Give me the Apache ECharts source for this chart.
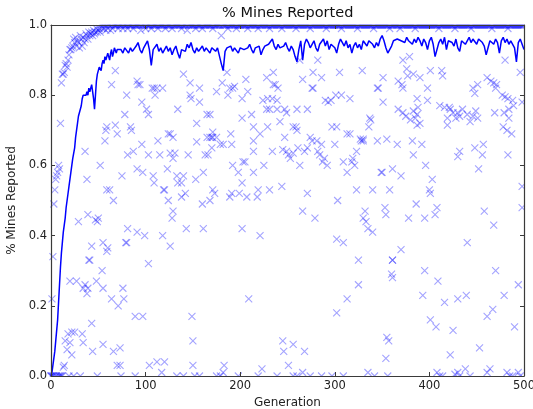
<!DOCTYPE html>
<html>
<head>
<meta charset="utf-8">
<script src="https://cdn.jsdelivr.net/npm/echarts@6/dist/echarts.min.js"></script>
<style>
  html, body { margin: 0; padding: 0; background: #fff; overflow: hidden; }
  #chart { width: 533px; height: 409px; }
</style>
</head>
<body>
<div id="chart"></div>
<script>
// Tick labels
const xTicks = [0, 100, 200, 300, 400, 500];
const yTicks = [0.0, 0.2, 0.4, 0.6, 0.8, 1.0];

// Best individual per generation (index = generation)
const maxReported = [
  0, 0.22, 0.34, 0.49, 0.53, 0.56, 0.57, 0.58, 0.60, 0.59, 0.72, 0.835, 0.86, 0.86, 0.865, 0.885, 0.89, 0.88, 0.90, 0.915,
  0.93, 0.93, 0.935, 0.94, 0.96, 0.95, 0.965, 0.94, 0.955, 0.95, 0.935, 0.97, 0.96, 0.94, 0.965, 0.95, 0.96, 0.975, 0.97, 0.96,
  0.98, 0.97, 0.975, 0.98, 0.97, 0.985, 0.975, 0.98, 0.99, 0.98, 0.985, 0.99, 0.98, 1, 0.99, 1, 0.99, 1, 0.985, 1,
  0.99, 1, 1, 0.985, 1, 0.99, 1, 1, 1, 1, 1, 0.99, 1, 1, 1, 1, 0.99, 1, 1, 1,
  1, 0.99, 1, 1, 1, 1, 1, 0.99, 1, 1, 1, 1, 1, 1, 1, 0.985, 1, 1, 1, 1,
  0.99, 1, 1, 1, 1, 1, 0.99, 1, 1, 1, 1, 1, 1, 0.99, 1, 1, 1, 1, 1, 1,
  1, 0.99, 1, 1, 1, 1, 1, 1, 0.99, 1, 1, 1, 1, 1, 1, 1, 1, 1, 0.99, 1,
  1, 1, 1, 1, 0.985, 1, 1, 1, 1, 1, 1, 1, 1, 0.99, 1, 1, 1, 1, 1, 1,
  0.99, 1, 1, 1, 1, 1, 1, 1, 1, 1, 1, 0.99, 1, 1, 1, 1, 1, 1, 1, 1,
  0.97, 1, 1, 1, 1, 1, 1, 0.99, 1, 1, 1, 1, 1, 1, 1, 1, 0.99, 1, 1, 1,
  1, 1, 1, 1, 1, 1, 1, 1, 0.99, 1, 1, 1, 1, 1, 1, 1, 1, 1, 1, 0.99,
  1, 1, 1, 1, 1, 1, 1, 1, 1, 1, 1, 0.99, 1, 1, 1, 1, 1, 1, 1, 1,
  1, 1, 1, 1, 0.99, 1, 1, 1, 1, 1, 1, 1, 1, 1, 1, 1, 1, 1, 1, 0.99,
  1, 1, 1, 1, 1, 1, 1, 1, 1, 1, 1, 1, 1, 1, 0.99, 1, 1, 1, 1, 1,
  1, 1, 1, 1, 1, 1, 1, 1, 1, 1, 1, 0.99, 1, 1, 1, 1, 1, 1, 1, 1,
  1, 1, 1, 1, 1, 1, 1, 0.99, 1, 1, 1, 1, 1, 1, 1, 1, 1, 1, 1, 1,
  1, 1, 1, 1, 0.99, 1, 1, 1, 1, 1, 1, 1, 1, 1, 1, 1, 1, 1, 1, 1,
  1, 0.99, 1, 1, 1, 1, 1, 1, 1, 1, 1, 1, 1, 1, 1, 1, 1, 1, 0.99, 1,
  1, 1, 1, 1, 1, 1, 1, 1, 1, 0.99, 1, 1, 1, 1, 1, 1, 1, 1, 1, 1,
  1, 1, 1, 1, 1, 0.99, 1, 1, 1, 1, 1, 1, 1, 1, 1, 1, 1, 1, 1, 1,
  1, 1, 1, 1, 1, 1, 1, 1, 1, 1, 0.99, 1, 1, 1, 1, 1, 1, 1, 1, 1,
  1, 1, 1, 1, 1, 1, 1, 0.99, 1, 1, 1, 1, 1, 1, 1, 1, 1, 1, 1, 1,
  1, 1, 1, 1, 0.99, 1, 1, 1, 1, 1, 1, 1, 1, 1, 1, 1, 1, 1, 1, 1,
  1, 1, 1, 1, 1, 1, 0.99, 1, 1, 1, 1, 1, 1, 1, 1, 1, 1, 1, 1, 1,
  1, 1, 1, 0.99, 1, 1, 1, 1, 1, 1, 1, 1, 1, 1, 1, 1, 1, 1, 1, 1, 1
];

// Population average: [generation, fraction reported]
const meanReported = [
  [0, 0.0], [1, 0.01], [2, 0.03], [3, 0.05], [4, 0.07], [5, 0.10], [6, 0.13], [7, 0.16], [8, 0.21], [9, 0.26],
  [10, 0.31], [11, 0.35], [12, 0.38], [13, 0.41], [14, 0.43], [15, 0.45], [16, 0.48], [17, 0.50], [18, 0.52], [19, 0.54],
  [20, 0.56], [21, 0.58], [22, 0.60], [23, 0.62], [24, 0.625], [25, 0.65], [26, 0.68], [27, 0.70], [28, 0.72], [29, 0.74],
  [30, 0.735], [31, 0.745], [32, 0.77], [33, 0.79], [34, 0.80], [35, 0.795], [36, 0.80], [37, 0.80], [38, 0.81], [39, 0.80],
  [40, 0.82], [41, 0.81], [42, 0.82], [43, 0.83], [44, 0.81], [45, 0.79], [46, 0.76], [47, 0.80], [48, 0.84], [49, 0.86],
  [50, 0.87], [51, 0.88], [52, 0.88], [53, 0.87], [54, 0.89], [55, 0.90], [56, 0.89], [57, 0.91], [58, 0.90], [59, 0.90],
  [60, 0.92], [61, 0.91], [62, 0.90], [63, 0.92], [64, 0.93], [65, 0.91], [66, 0.92], [67, 0.935], [68, 0.93], [69, 0.92],
  [70, 0.93], [72, 0.925], [74, 0.93], [76, 0.92], [78, 0.935], [80, 0.93], [82, 0.92], [84, 0.935], [86, 0.925], [88, 0.93],
  [90, 0.94], [92, 0.95], [94, 0.93], [96, 0.92], [98, 0.935], [100, 0.94], [102, 0.955], [104, 0.93], [106, 0.885], [108, 0.93],
  [110, 0.935], [112, 0.945], [114, 0.925], [116, 0.935], [118, 0.92], [120, 0.93], [122, 0.94], [124, 0.925], [126, 0.935], [128, 0.915],
  [130, 0.93], [132, 0.94], [134, 0.92], [136, 0.905], [138, 0.93], [140, 0.935], [142, 0.925], [144, 0.945], [146, 0.935], [148, 0.95],
  [150, 0.93], [152, 0.92], [154, 0.935], [156, 0.925], [158, 0.93], [160, 0.94], [162, 0.925], [164, 0.935], [166, 0.93], [168, 0.92],
  [170, 0.935], [172, 0.93], [174, 0.925], [176, 0.935], [178, 0.93], [180, 0.89], [182, 0.87], [184, 0.925], [186, 0.935], [188, 0.93],
  [190, 0.94], [192, 0.925], [194, 0.935], [196, 0.93], [198, 0.92], [200, 0.935], [202, 0.94], [204, 0.93], [206, 0.925], [208, 0.935],
  [210, 0.945], [212, 0.93], [214, 0.92], [216, 0.935], [218, 0.93], [220, 0.94], [222, 0.915], [224, 0.93], [226, 0.94], [228, 0.935],
  [230, 0.945], [232, 0.95], [234, 0.96], [236, 0.94], [238, 0.93], [240, 0.945], [242, 0.935], [244, 0.93], [246, 0.94], [248, 0.95],
  [250, 0.935], [252, 0.925], [254, 0.94], [256, 0.93], [258, 0.91], [260, 0.895], [262, 0.93], [264, 0.955], [266, 0.90], [268, 0.945],
  [270, 0.96], [272, 0.95], [274, 0.935], [276, 0.94], [278, 0.955], [280, 0.935], [282, 0.925], [284, 0.945], [286, 0.95], [288, 0.96],
  [290, 0.94], [292, 0.955], [294, 0.93], [296, 0.945], [298, 0.95], [300, 0.935], [302, 0.92], [304, 0.945], [306, 0.96], [308, 0.955],
  [310, 0.94], [312, 0.955], [314, 0.935], [316, 0.945], [318, 0.92], [320, 0.94], [322, 0.95], [324, 0.935], [326, 0.945], [328, 0.93],
  [330, 0.955], [332, 0.95], [334, 0.94], [336, 0.955], [338, 0.96], [340, 0.945], [342, 0.935], [344, 0.95], [346, 0.94], [348, 0.96],
  [350, 0.97], [352, 0.955], [354, 0.935], [356, 0.92], [358, 0.915], [360, 0.94], [362, 0.955], [364, 0.95], [366, 0.96], [368, 0.965],
  [370, 0.955], [372, 0.96], [374, 0.95], [376, 0.965], [378, 0.955], [380, 0.96], [382, 0.945], [384, 0.96], [386, 0.95], [388, 0.965],
  [390, 0.955], [392, 0.94], [394, 0.96], [396, 0.95], [398, 0.93], [400, 0.955], [402, 0.965], [404, 0.945], [406, 0.91], [408, 0.905],
  [410, 0.95], [412, 0.96], [414, 0.945], [416, 0.965], [418, 0.93], [420, 0.955], [422, 0.96], [424, 0.95], [426, 0.94], [428, 0.96],
  [430, 0.935], [432, 0.925], [434, 0.955], [436, 0.96], [438, 0.945], [440, 0.955], [442, 0.965], [444, 0.95], [446, 0.96], [448, 0.955],
  [450, 0.945], [452, 0.96], [454, 0.965], [456, 0.95], [458, 0.94], [460, 0.915], [462, 0.935], [464, 0.955], [466, 0.96], [468, 0.945],
  [470, 0.96], [472, 0.95], [474, 0.92], [476, 0.955], [478, 0.965], [480, 0.95], [482, 0.96], [484, 0.945], [486, 0.955], [488, 0.96],
  [490, 0.935], [492, 0.895], [494, 0.95], [496, 0.96], [498, 0.945], [500, 0.93]
];

// Worst individual per generation: [generation, fraction reported]
const minReported = [
  [0, 0], [1, 0], [2, 0], [3, 0], [5, 0], [6, 0], [8, 0], [9, 0], [10, 0], [11, 0], [12, 0], [19, 0], [24, 0], [31, 0], [49, 0], [74, 0], [89, 0],
  [41, 0.33], [20, 0.27], [27, 0.27], [34, 0.25], [39, 0.25], [38, 0.235], [36, 0.26], [48, 0.27], [54, 0.30], [55, 0.25],
  [64, 0.22], [71, 0.20], [76, 0.25], [77, 0.22], [103, 0.32], [89, 0.17], [97, 0.17], [43, 0.15],
  [15, 0.10], [18, 0.12], [22, 0.125], [25, 0.125], [33, 0.12], [34, 0.095], [20, 0.095], [22, 0.06], [17, 0.075],
  [44, 0.07], [55, 0.09], [66, 0.07], [73, 0.08], [70, 0.03], [73, 0.03], [13, 0.025], [14, 0.03],
  [104, 0.03], [112, 0.04], [120, 0.04], [117, 0.01],
  [36, 0.64], [52, 0.60], [38, 0.56], [59, 0.53], [62, 0.53], [66, 0.50], [29, 0.44], [39, 0.46], [47, 0.445], [49, 0.44], [50, 0.45],
  [43, 0.37], [55, 0.38], [60, 0.365], [59, 0.355], [40, 0.33], [75, 0.57], [81, 0.42], [79, 0.38], [80, 0.38], [91, 0.41], [99, 0.40],
  [81, 0.63], [87, 0.64], [91, 0.59], [97, 0.58], [103, 0.63], [108, 0.57], [109, 0.55], [113, 0.67], [115, 0.63], [123, 0.59],
  [119, 0.53], [120, 0.53], [124, 0.50], [129, 0.47], [128, 0.45], [118, 0.40], [126, 0.37],
  [57, 0.67], [70, 0.69], [58, 0.70], [85, 0.70], [96, 0.66], [124, 0.69], [129, 0.68], [131, 0.635], [133, 0.57],
  [68, 0.87], [64, 0.83], [80, 0.80], [91, 0.84], [92, 0.83], [94, 0.83], [96, 0.78], [101, 0.76], [103, 0.745], [107, 0.82],
  [109, 0.82], [112, 0.82], [118, 0.82], [110, 0.80], [78, 0.745], [68, 0.715], [59, 0.71], [84, 0.71], [126, 0.69], [134, 0.76],
  [140, 0.86], [147, 0.835], [157, 0.82], [147, 0.80], [148, 0.79], [157, 0.78], [165, 0.745], [168, 0.745], [154, 0.72], [171, 0.695],
  [170, 0.68], [175, 0.68], [181, 0.835], [186, 0.865], [175, 0.81], [189, 0.82], [192, 0.82], [194, 0.825], [187, 0.80], [206, 0.845],
  [208, 0.81], [202, 0.79], [212, 0.745], [202, 0.735], [214, 0.71], [228, 0.85], [235, 0.865], [235, 0.83], [237, 0.83], [240, 0.82],
  [224, 0.785], [229, 0.79], [234, 0.79], [239, 0.785], [228, 0.76], [231, 0.76], [239, 0.76], [247, 0.76], [249, 0.75], [229, 0.71],
  [242, 0.725], [260, 0.76], [266, 0.845], [277, 0.865], [286, 0.85], [277, 0.82], [276, 0.82], [263, 0.90], [282, 0.90], [271, 0.76],
  [290, 0.785], [293, 0.78], [296, 0.785], [301, 0.80], [307, 0.80], [305, 0.865], [256, 0.71], [259, 0.71], [297, 0.71], [302, 0.71], [274, 0.68],
  [154, 0.667], [165, 0.68], [168, 0.68], [171, 0.68], [179, 0.66], [182, 0.66], [190, 0.69], [191, 0.66], [214, 0.67], [221, 0.69],
  [247, 0.68], [260, 0.70], [313, 0.69], [126, 0.635], [129, 0.62], [140, 0.57], [134, 0.55], [138, 0.55],
  [145, 0.63], [163, 0.63], [166, 0.63], [170, 0.65], [214, 0.64], [234, 0.64], [245, 0.645], [249, 0.64], [251, 0.63], [253, 0.62],
  [256, 0.635], [261, 0.65], [268, 0.64], [271, 0.65], [276, 0.67], [281, 0.67], [282, 0.64], [284, 0.63], [286, 0.66], [287, 0.61],
  [289, 0.62], [292, 0.60], [300, 0.66], [309, 0.61], [313, 0.58], [192, 0.60], [198, 0.58], [203, 0.61], [205, 0.61], [214, 0.58],
  [225, 0.60], [263, 0.60], [161, 0.58], [153, 0.56], [202, 0.55], [171, 0.53], [173, 0.52], [142, 0.52], [138, 0.51], [191, 0.52],
  [199, 0.52], [189, 0.51], [219, 0.53], [218, 0.51], [231, 0.53], [244, 0.54], [207, 0.51], [271, 0.52], [303, 0.50], [168, 0.50],
  [160, 0.49], [266, 0.47], [279, 0.45], [143, 0.42], [161, 0.42], [202, 0.42], [221, 0.40], [302, 0.39], [309, 0.38],
  [487, 0.69], [316, 0.69], [328, 0.67], [330, 0.67], [345, 0.67], [366, 0.66], [382, 0.67], [392, 0.66], [432, 0.64], [430, 0.625],
  [448, 0.65], [457, 0.66], [456, 0.63], [483, 0.63], [323, 0.64], [319, 0.62], [318, 0.61], [321, 0.60], [383, 0.63], [396, 0.60],
  [349, 0.58], [350, 0.58], [361, 0.59], [370, 0.57], [403, 0.56], [452, 0.59], [323, 0.53], [340, 0.53], [358, 0.53], [400, 0.53],
  [401, 0.52], [498, 0.54], [386, 0.49], [353, 0.48], [354, 0.46], [332, 0.47], [330, 0.45], [333, 0.44], [335, 0.42], [340, 0.41],
  [378, 0.45], [395, 0.45], [406, 0.46], [408, 0.48], [458, 0.47], [498, 0.48], [468, 0.43], [440, 0.38], [370, 0.36], [325, 0.33], [361, 0.33],
  [372, 0.90], [379, 0.91], [329, 0.87], [351, 0.85], [480, 0.90], [376, 0.875], [383, 0.86], [377, 0.855], [401, 0.87], [413, 0.87],
  [414, 0.855], [496, 0.865], [367, 0.84], [371, 0.83], [372, 0.82], [390, 0.85], [345, 0.82], [346, 0.82], [398, 0.82], [446, 0.82],
  [448, 0.805], [461, 0.85], [465, 0.84], [468, 0.835], [471, 0.83], [470, 0.82], [477, 0.80], [480, 0.795], [483, 0.79], [488, 0.785],
  [498, 0.78], [451, 0.83], [316, 0.79], [351, 0.78], [387, 0.79], [388, 0.765], [398, 0.785], [367, 0.76], [372, 0.75], [375, 0.74],
  [383, 0.755], [385, 0.735], [380, 0.73], [387, 0.745], [411, 0.77], [416, 0.765], [421, 0.765], [422, 0.76], [425, 0.75], [428, 0.735],
  [419, 0.735], [430, 0.75], [432, 0.74], [435, 0.76], [440, 0.745], [446, 0.74], [449, 0.755], [469, 0.75], [479, 0.75], [484, 0.76],
  [484, 0.735], [489, 0.77], [337, 0.735], [338, 0.73], [336, 0.71], [387, 0.715], [390, 0.72], [419, 0.715], [451, 0.735], [443, 0.725],
  [478, 0.71], [482, 0.70], [327, 0.675], [330, 0.675], [355, 0.675],
  [149, 0.17], [150, 0.10], [150, 0.03], [209, 0.22], [245, 0.10], [246, 0.07], [256, 0.09], [268, 0.07], [251, 0.03], [223, 0.02],
  [183, 0.03], [182, 0.01], [266, 0.01], [302, 0.18], [313, 0.22],
  [133, 0], [140, 0], [152, 0], [157, 0], [175, 0], [179, 0], [198, 0], [219, 0], [239, 0], [256, 0], [260, 0], [274, 0], [286, 0], [297, 0], [309, 0],
  [325, 0.26], [360, 0.29], [361, 0.28], [361, 0.33], [395, 0.30], [409, 0.27], [393, 0.23], [416, 0.21], [430, 0.22], [439, 0.23],
  [470, 0.30], [479, 0.23], [494, 0.26], [461, 0.17], [467, 0.19], [401, 0.16], [407, 0.14], [425, 0.13], [490, 0.14], [355, 0.11],
  [357, 0.10], [354, 0.05], [453, 0.08], [422, 0.06], [438, 0.02], [430, 0.01], [427, 0.005], [461, 0.01], [464, 0.02], [482, 0.01],
  [494, 0.01], [408, 0.01], [335, 0.01],
  [342, 0], [356, 0], [411, 0], [414, 0], [432, 0], [443, 0], [485, 0], [488, 0], [496, 0]
];

const FONT = 'DejaVu Sans';
const BLUE = '#0000ff';
const MARK = 'rgba(0, 0, 255, 0.45)';
const CROSS = 'path://M0,0L10,10M10,0L0,10';
const SPINE = '#3a3a3a';

const chart = echarts.init(document.getElementById('chart'), null, { renderer: 'canvas' });

const crossStyle = { color: 'rgba(0,0,0,0)', borderColor: MARK, borderWidth: 1.1 };

const plainAxis = {
  axisLine: { show: true, onZero: false, lineStyle: { color: SPINE, width: 1.2 } },
  axisTick: { show: true, inside: true, length: 4, lineStyle: { color: SPINE, width: 1 } },
  splitLine: { show: false }
};

chart.setOption({
  animation: false,
  backgroundColor: '#fff',
  title: {
    text: '% Mines Reported',
    left: 222, top: 6, padding: 0,
    textStyle: { fontFamily: FONT, fontSize: 14.5, fontWeight: 'normal', color: '#111' }
  },
  grid: { left: 51, right: 9, top: 25, bottom: 33, containLabel: false, outerBoundsMode: 'none' },
  graphic: [
    // hide marker overflow outside the plotting frame
    { type: 'rect', z: 4, shape: { x: 40, y: 14, width: 493, height: 10.6 }, style: { fill: '#fff' } },
    { type: 'rect', z: 4, shape: { x: 40, y: 376.5, width: 493, height: 4 }, style: { fill: '#fff' } },
    { type: 'rect', z: 4, shape: { x: 524.5, y: 14, width: 9, height: 370 }, style: { fill: '#fff' } }
  ],
  xAxis: [
    Object.assign({}, plainAxis, {
      type: 'value', position: 'bottom', z: 5,
      min: xTicks[0], max: xTicks[xTicks.length - 1], interval: 100,
      name: 'Generation', nameLocation: 'middle', nameGap: 21,
      nameTextStyle: { fontFamily: FONT, fontSize: 12, color: '#222' },
      axisLabel: { fontFamily: FONT, fontSize: 11.5, color: '#222', margin: 4 }
    }),
    Object.assign({}, plainAxis, {
      type: 'value', position: 'top', z: 5,
      min: xTicks[0], max: xTicks[xTicks.length - 1], interval: 100,
      axisLabel: { show: false }
    })
  ],
  yAxis: [
    Object.assign({}, plainAxis, {
      type: 'value', position: 'left', z: 5,
      min: yTicks[0], max: yTicks[yTicks.length - 1], interval: 0.2,
      name: '% Mines Reported', nameLocation: 'middle', nameGap: 33,
      nameTextStyle: { fontFamily: FONT, fontSize: 12, color: '#222' },
      axisLabel: { fontFamily: FONT, fontSize: 11.5, color: '#222', margin: 4,
        formatter: v => v.toFixed(1) }
    }),
    Object.assign({}, plainAxis, {
      type: 'value', position: 'right', z: 5,
      min: yTicks[0], max: yTicks[yTicks.length - 1], interval: 0.2,
      axisLabel: { show: false }
    })
  ],
  series: [
    {
      name: 'max', type: 'scatter', xAxisIndex: 0, yAxisIndex: 0,
      symbol: CROSS, symbolSize: 7, itemStyle: crossStyle, clip: false,
      data: maxReported.map((v, g) => [g, v])
    },
    {
      name: 'min', type: 'scatter', xAxisIndex: 0, yAxisIndex: 0,
      symbol: CROSS, symbolSize: 7, itemStyle: crossStyle, clip: false,
      data: minReported
    },
    {
      name: 'mean', type: 'line', xAxisIndex: 0, yAxisIndex: 0,
      showSymbol: false, symbol: 'none',
      lineStyle: { color: BLUE, width: 1.5 },
      data: meanReported
    }
  ]
});
</script>
</body>
</html>
